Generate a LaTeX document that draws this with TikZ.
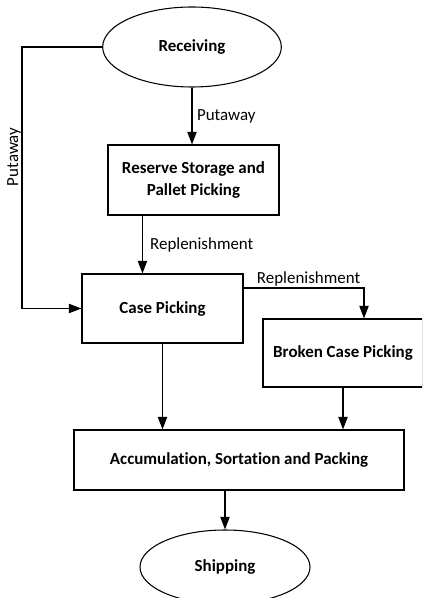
\documentclass[tikz,border=0pt]{standalone}
\usepackage{fontspec}
\setmainfont{Carlito}[Ligatures=NoCommon]
\usetikzlibrary{arrows.meta,calc,positioning,shapes.geometric}

\begin{document}
\begin{tikzpicture}[x=0.75pt,y=-0.75pt,
  box/.style={draw,line width=0.8pt,align=center,inner sep=0pt,
    font=\fontsize{12.7}{16}\selectfont\bfseries},
  oval/.style={draw,ellipse,line width=0.8pt,inner sep=0pt,
    font=\fontsize{12.7}{16}\selectfont\bfseries},
  flow/.style={line width=0.9pt,-{Triangle[length=9.5pt,width=7pt]}},
  lbl/.style={font=\fontsize{12.7}{16}\selectfont}]

\useasboundingbox (0,0) rectangle (422,598);
\clip (0,0) rectangle (422,598);

\node[oval,minimum width=134pt,minimum height=60pt] (recv) at (192,47) {Receiving};
\node[box,minimum width=128.25pt,minimum height=52.5pt] (reserve) at (193.5,180) {Reserve Storage and\\Pallet Picking};
\node[box,minimum width=120.75pt,minimum height=51.75pt] (casep) at (162.5,308.5) {Case Picking};
\node[box,minimum width=120pt,minimum height=51pt] (broken) at (343,353) {Broken Case Picking};
\node[box,minimum width=247.5pt,minimum height=45pt] (accum) at (239,460) {Accumulation, Sortation and Packing};
\node[oval,minimum width=127.5pt,minimum height=55.5pt] (ship) at (225,567) {Shipping};

\coordinate (bend) at (22,47);
\coordinate (rsout) at ($(reserve.south west)+(35,0)$);
\coordinate (cpout) at ($(casep.north east)+(0,14.5)$);

\draw[flow] (recv.west) -- (bend) |- (casep.west)
  node[pos=0.21,rotate=90,above,lbl,inner sep=0.5pt] {Putaway};
\draw[flow] (recv.south) -- (recv.south |- reserve.north)
  node[midway,right,lbl] {Putaway};
\draw[flow] (rsout) -- (rsout |- casep.north)
  node[midway,right,lbl,xshift=2pt] {Replenishment};
\draw[flow] (cpout) -| ($(broken.north)+(21,0)$)
  node[pos=0.27,above,lbl,inner sep=1pt] {Replenishment};
\draw[flow] (casep.south) -- (casep.south |- accum.north);
\draw[flow] (broken.south) -- (broken.south |- accum.north);
\draw[flow] (ship.north |- accum.south) -- (ship.north);
\end{tikzpicture}
\end{document}
